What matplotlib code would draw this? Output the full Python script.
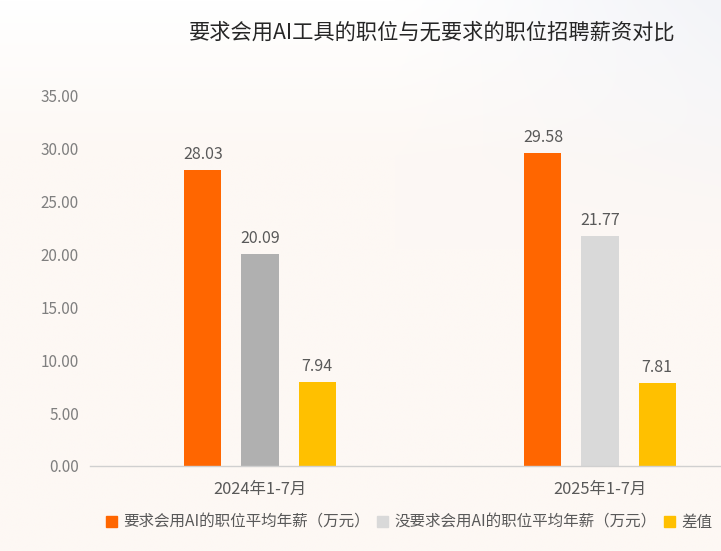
import numpy as np
import matplotlib
matplotlib.use("Agg")
import matplotlib.pyplot as plt
from matplotlib.patches import Patch

plt.rcParams['font.family'] = ['Noto Sans CJK SC', 'DejaVu Sans']

categories = ['2024年1-7月', '2025年1-7月']
series_names = ['要求会用AI的职位平均年薪（万元）', '没要求会用AI的职位平均年薪（万元）', '差值']
ai_required = [28.03, 29.58]
ai_not_required = [20.09, 21.77]
difference = [7.94, 7.81]
yticks = [0, 5, 10, 15, 20, 25, 30, 35]
title = '要求会用AI工具的职位与无要求的职位招聘薪资对比'

W, H = 721, 551
fig = plt.figure(figsize=(W / 100, H / 100), dpi=100)

# background gradient
bg = fig.add_axes([0, 0, 1, 1], zorder=-10)
yy, xx = np.mgrid[0:1:200j, 0:1:260j]
cream = np.array([253, 248, 244]) / 255
white = np.array([255, 255, 255]) / 255
blue = np.array([243, 244, 248]) / 255
t_top = np.clip(1 - yy / 0.28, 0, 1)[..., None]
t_right = (np.clip((xx - 0.55) / 0.45, 0, 1) * np.clip(1 - yy / 0.45, 0, 1))[..., None]
img = cream * (1 - t_top) + white * t_top
img = img * (1 - t_right) + blue * t_right
bg.imshow(img, aspect='auto', extent=[0, 1, 0, 1], origin='upper')
bg.axis('off')

# axes: x from -0.5 (px 90) to 1.5 (px 770), y 0 at px 466, 35 at px 96
left = 90 / W
width = 680 / W
bottom = (H - 466) / H
height = 370 / H
ax = fig.add_axes([left, bottom, width, height])
ax.patch.set_alpha(0)

x = np.arange(len(categories))
bw = 0.109
off = 0.168
colors1 = ['#ff6600', '#ff6600']
colors2 = ['#b0b0b0', '#d9d9d9']
colors3 = ['#ffc000', '#ffc000']
b1 = ax.bar(x - off, ai_required, bw, color=colors1)
b2 = ax.bar(x, ai_not_required, bw, color=colors2)
b3 = ax.bar(x + off, difference, bw, color=colors3)
for bars in (b1, b2, b3):
    ax.bar_label(bars, labels=[f'{v:.2f}' for v in bars.datavalues], padding=5,
                 fontsize=11.5, color='#595959')

ax.set_xlim(-0.5, 1.5)
ax.set_ylim(0, 35)
ax.set_yticks(yticks)
ax.set_yticklabels([f'{v:.2f}' for v in yticks])
ax.set_xticks(x)
ax.set_xticklabels(categories)
for s in ['top', 'right', 'left']:
    ax.spines[s].set_visible(False)
ax.spines['bottom'].set_color('#d0d0d0')
ax.spines['bottom'].set_linewidth(1)
ax.tick_params(axis='y', length=0, pad=8, labelsize=11, labelcolor='#7f7f7f')
ax.tick_params(axis='x', length=0, pad=11, labelsize=11.8, labelcolor='#595959')

fig.text(432 / W, 1 - 33 / H, title, ha='center', va='center', fontsize=15.3, color='#262626')

handles = [Patch(color='#ff6600'), Patch(color='#d9d9d9'), Patch(color='#ffc000')]
fig.legend(handles, series_names, loc='center', bbox_to_anchor=(409 / W, 1 - 522 / H),
           ncol=3, frameon=False, fontsize=11.2, handlelength=0.7, handleheight=0.7,
           handletextpad=0.4, columnspacing=0.5, labelcolor='#595959')

fig.savefig('out.png', dpi=100)
